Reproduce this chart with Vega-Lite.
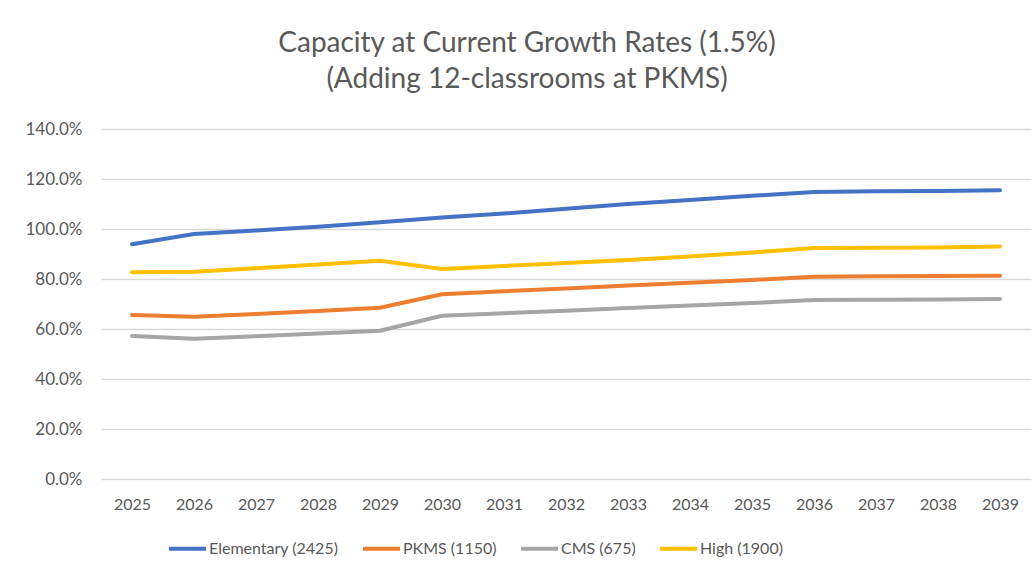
{
  "$schema": "https://vega.github.io/schema/vega-lite/v6.json",
  "autosize": {"type": "none"},
  "width": 930,
  "height": 350,
  "padding": {"left": 101, "top": 129, "right": 2, "bottom": 97},
  "background": "#ffffff",
  "config": {
    "font": "Lato",
    "view": {"stroke": null}
  },
  "title": {
    "text": ["Capacity at Current Growth Rates (1.5%)", "(Adding 12-classrooms at PKMS)"],
    "font": "Lato",
    "fontSize": 28,
    "fontWeight": "normal",
    "color": "#595959",
    "anchor": "middle",
    "frame": "group",
    "dx": -39,
    "offset": 26,
    "lineHeight": 36
  },
  "data": {
    "values": [
      {"year": "2025", "school": "Elementary (2425)", "v": 0.939},
      {"year": "2026", "school": "Elementary (2425)", "v": 0.980},
      {"year": "2027", "school": "Elementary (2425)", "v": 0.994},
      {"year": "2028", "school": "Elementary (2425)", "v": 1.009},
      {"year": "2029", "school": "Elementary (2425)", "v": 1.027},
      {"year": "2030", "school": "Elementary (2425)", "v": 1.046},
      {"year": "2031", "school": "Elementary (2425)", "v": 1.062},
      {"year": "2032", "school": "Elementary (2425)", "v": 1.081},
      {"year": "2033", "school": "Elementary (2425)", "v": 1.100},
      {"year": "2034", "school": "Elementary (2425)", "v": 1.116},
      {"year": "2035", "school": "Elementary (2425)", "v": 1.133},
      {"year": "2036", "school": "Elementary (2425)", "v": 1.148},
      {"year": "2037", "school": "Elementary (2425)", "v": 1.151},
      {"year": "2038", "school": "Elementary (2425)", "v": 1.152},
      {"year": "2039", "school": "Elementary (2425)", "v": 1.155},
      {"year": "2025", "school": "PKMS (1150)", "v": 0.656},
      {"year": "2026", "school": "PKMS (1150)", "v": 0.649},
      {"year": "2027", "school": "PKMS (1150)", "v": 0.660},
      {"year": "2028", "school": "PKMS (1150)", "v": 0.672},
      {"year": "2029", "school": "PKMS (1150)", "v": 0.685},
      {"year": "2030", "school": "PKMS (1150)", "v": 0.739},
      {"year": "2031", "school": "PKMS (1150)", "v": 0.751},
      {"year": "2032", "school": "PKMS (1150)", "v": 0.762},
      {"year": "2033", "school": "PKMS (1150)", "v": 0.774},
      {"year": "2034", "school": "PKMS (1150)", "v": 0.785},
      {"year": "2035", "school": "PKMS (1150)", "v": 0.796},
      {"year": "2036", "school": "PKMS (1150)", "v": 0.809},
      {"year": "2037", "school": "PKMS (1150)", "v": 0.811},
      {"year": "2038", "school": "PKMS (1150)", "v": 0.812},
      {"year": "2039", "school": "PKMS (1150)", "v": 0.813},
      {"year": "2025", "school": "CMS (675)", "v": 0.572},
      {"year": "2026", "school": "CMS (675)", "v": 0.561},
      {"year": "2027", "school": "CMS (675)", "v": 0.571},
      {"year": "2028", "school": "CMS (675)", "v": 0.582},
      {"year": "2029", "school": "CMS (675)", "v": 0.593},
      {"year": "2030", "school": "CMS (675)", "v": 0.653},
      {"year": "2031", "school": "CMS (675)", "v": 0.663},
      {"year": "2032", "school": "CMS (675)", "v": 0.673},
      {"year": "2033", "school": "CMS (675)", "v": 0.684},
      {"year": "2034", "school": "CMS (675)", "v": 0.694},
      {"year": "2035", "school": "CMS (675)", "v": 0.704},
      {"year": "2036", "school": "CMS (675)", "v": 0.716},
      {"year": "2037", "school": "CMS (675)", "v": 0.717},
      {"year": "2038", "school": "CMS (675)", "v": 0.718},
      {"year": "2039", "school": "CMS (675)", "v": 0.720},
      {"year": "2025", "school": "High (1900)", "v": 0.827},
      {"year": "2026", "school": "High (1900)", "v": 0.829},
      {"year": "2027", "school": "High (1900)", "v": 0.843},
      {"year": "2028", "school": "High (1900)", "v": 0.858},
      {"year": "2029", "school": "High (1900)", "v": 0.873},
      {"year": "2030", "school": "High (1900)", "v": 0.840},
      {"year": "2031", "school": "High (1900)", "v": 0.852},
      {"year": "2032", "school": "High (1900)", "v": 0.864},
      {"year": "2033", "school": "High (1900)", "v": 0.876},
      {"year": "2034", "school": "High (1900)", "v": 0.890},
      {"year": "2035", "school": "High (1900)", "v": 0.906},
      {"year": "2036", "school": "High (1900)", "v": 0.924},
      {"year": "2037", "school": "High (1900)", "v": 0.925},
      {"year": "2038", "school": "High (1900)", "v": 0.926},
      {"year": "2039", "school": "High (1900)", "v": 0.930}
    ]
  },
  "mark": {"type": "line", "strokeWidth": 4, "strokeCap": "round", "strokeJoin": "round"},
  "encoding": {
    "x": {
      "field": "year",
      "type": "ordinal",
      "scale": {"type": "point", "padding": 0.5},
      "axis": {
        "title": null,
        "labelAngle": 0,
        "domain": false,
        "ticks": false,
        "grid": false,
        "labelFont": "Lato",
        "labelFontSize": 16,
        "labelColor": "#595959",
        "labelPadding": 17
      }
    },
    "y": {
      "field": "v",
      "type": "quantitative",
      "scale": {"domain": [0, 1.4], "nice": false},
      "axis": {
        "title": null,
        "format": ".1%",
        "values": [0, 0.2, 0.4, 0.6, 0.8, 1.0, 1.2, 1.4],
        "domain": false,
        "ticks": false,
        "grid": true,
        "gridColor": "#d9d9d9",
        "gridWidth": 1.5,
        "labelFont": "Lato",
        "labelFontSize": 17,
        "labelColor": "#595959",
        "labelPadding": 19
      }
    },
    "color": {
      "field": "school",
      "type": "nominal",
      "sort": ["Elementary (2425)", "PKMS (1150)", "CMS (675)", "High (1900)"],
      "scale": {
        "domain": ["Elementary (2425)", "PKMS (1150)", "CMS (675)", "High (1900)"],
        "range": ["#4472C4", "#ED7D31", "#A5A5A5", "#FFC000"]
      },
      "legend": {
        "title": null,
        "orient": "none",
        "direction": "horizontal",
        "legendX": 66,
        "legendY": 399,
        "symbolType": "stroke",
        "symbolSize": 1369,
        "symbolStrokeWidth": 4,
        "labelFont": "Lato",
        "labelFontSize": 16,
        "labelColor": "#595959",
        "labelOffset": 1,
        "columnPadding": 16
      }
    }
  }
}
